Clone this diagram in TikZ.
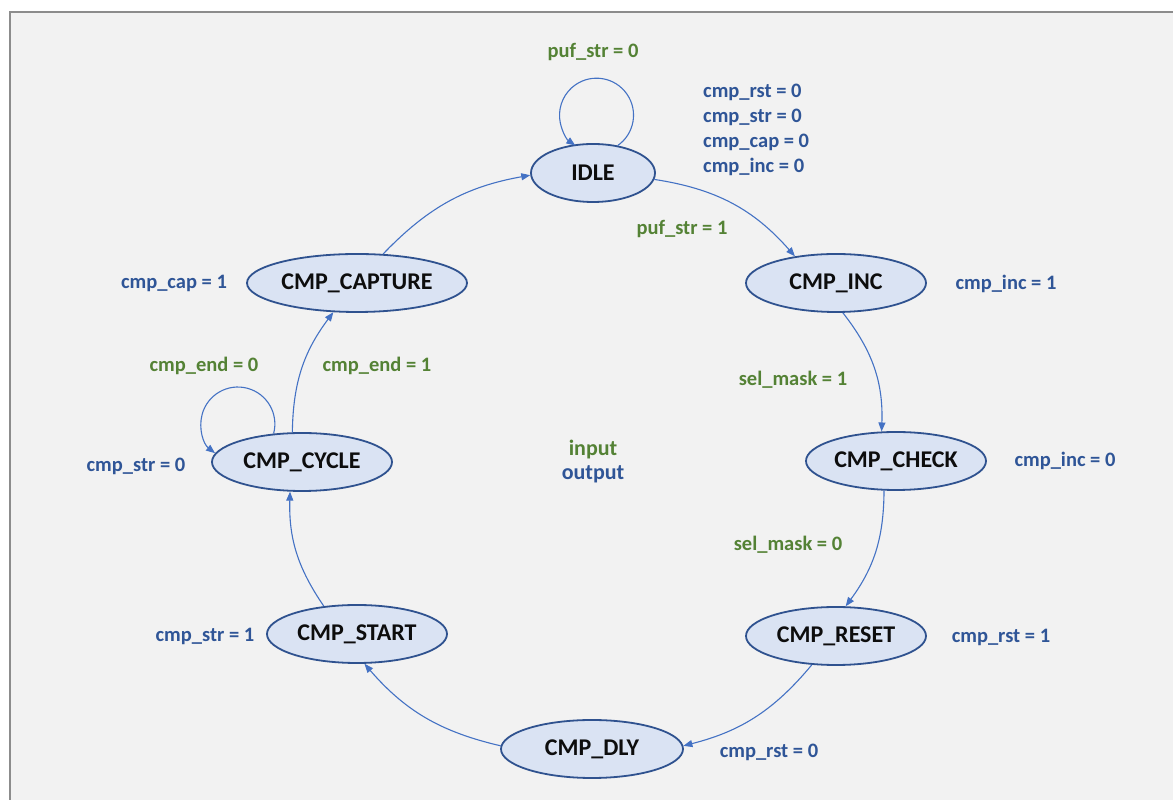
\documentclass[tikz,border=0pt]{standalone}
\usepackage{fontspec}
\setmainfont{Carlito}
\usetikzlibrary{arrows.meta,shapes.geometric}
\definecolor{bgc}{HTML}{F2F2F2}
\definecolor{framec}{HTML}{8C8C8C}
\definecolor{nodef}{HTML}{DAE3F3}
\definecolor{nodeb}{HTML}{2F528F}
\definecolor{edgec}{HTML}{4472C4}
\definecolor{gin}{HTML}{548235}
\definecolor{bout}{HTML}{2F5597}
\begin{document}
\begin{tikzpicture}[x=1pt,y=1pt,
  state/.style={ellipse, draw=nodeb, line width=1.8pt, fill=nodef,
    minimum width=#1, minimum height=58pt, inner sep=0pt,
    text=black!95, font=\bfseries\fontsize{24}{28}\selectfont},
  edge/.style={draw=edgec, line width=1.1pt,
    -{Triangle[length=9pt,width=7pt]}},
  inlbl/.style={text=gin, font=\bfseries\fontsize{20.5}{25}\selectfont, inner sep=0pt},
  outlbl/.style={text=bout, font=\bfseries\fontsize{20.5}{25}\selectfont, inner sep=0pt}]
\useasboundingbox (0,0) rectangle (1173,800);
\fill[white] (0,0) rectangle (1173,800);
\fill[bgc] (10,0) rectangle (1173,788);
\draw[framec, line width=2.5pt] (10,0) -- (10,788) -- (1173,788);

% states
\node[state=124] (idle) at (593,627) {IDLE};
\node[state=180] (inc) at (836,517) {CMP\_INC};
\node[state=180] (check) at (896,339) {CMP\_CHECK};
\node[state=180] (reset) at (836,164) {CMP\_RESET};
\node[state=182] (dly) at (592,51) {CMP\_DLY};
\node[state=180] (start) at (357,166) {CMP\_START};
\node[state=180] (cycle) at (302,338) {CMP\_CYCLE};
\node[state=220] (capture) at (357,517) {CMP\_CAPTURE};

% transitions
\draw[edge] (idle.-6) to[bend left=20] (inc.147);
\draw[edge] (inc.-77) to[bend left=20] (check.116);
\draw[edge] (check.-112) to[bend left=18] (reset.72);
\draw[edge] (reset.-130) to[bend left=18] (dly.2);
\draw[edge] (dly.178) to[bend left=18] (start.-76);
\draw[edge] (start.140) to[bend left=18] (cycle.-112);
\draw[edge] (cycle.108) to[bend left=18] (capture.-129);
\draw[edge] (capture.48) to[bend left=18] (idle.182);
\draw[edge] (idle.48) arc[start angle=-55, end angle=235, radius=37];
\draw[edge] (cycle.135) arc[start angle=-15, end angle=232, radius=37];

% labels
\node[inlbl] (l1) at (593,748) {puf\_str = 0};
\node[outlbl, align=left, anchor=west] (l2) at (703,670) {cmp\_rst = 0\\cmp\_str = 0\\cmp\_cap = 0\\cmp\_inc = 0};
\node[inlbl] (l3) at (682,571) {puf\_str = 1};
\node[outlbl] (l4) at (1006,516) {cmp\_inc = 1};
\node[inlbl] (l5) at (793,420) {sel\_mask = 1};
\node[outlbl] (l6) at (1065,339) {cmp\_inc = 0};
\node[inlbl] (l7) at (788,255) {sel\_mask = 0};
\node[outlbl] (l8) at (1001,163) {cmp\_rst = 1};
\node[outlbl] (l9) at (769,48) {cmp\_rst = 0};
\node[outlbl] (l10) at (205,164) {cmp\_str = 1};
\node[outlbl] (l11) at (136,334) {cmp\_str = 0};
\node[inlbl] (l12) at (204,434) {cmp\_end = 0};
\node[inlbl] (l13) at (377,434) {cmp\_end = 1};
\node[outlbl] (l14) at (174,517) {cmp\_cap = 1};
\node[inlbl, align=center, font=\bfseries\fontsize{22}{24}\selectfont] (l15) at (593,338) {input\\\textcolor{bout}{output}};
\end{tikzpicture}
\end{document}
